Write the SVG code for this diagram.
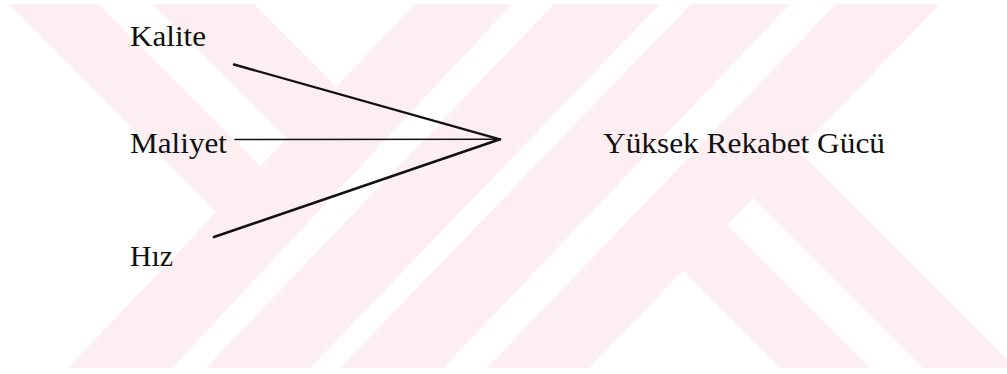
<svg xmlns="http://www.w3.org/2000/svg" width="1007" height="374" viewBox="0 0 1007 374">
  <style>
    .wm { fill: #fdeef1; stroke: none; }
    .lbl { font-family: "Liberation Serif", "Times New Roman", serif; font-size: 30px; fill: #111; }
    .edge { stroke: #111; fill: none; stroke-linecap: round; }
  </style>
  <rect x="0" y="0" width="1007" height="374" fill="#ffffff"/>
  <g id="watermark">
    <polygon class="wm" points="9,4 98,4 260.3,166.3 216.4,212.4"/>
    <polygon class="wm" points="152,4 254,4 336,86.4 286.7,138.7"/>
    <polygon class="wm" points="415,4 512,4 172,368 68,368"/>
    <polygon class="wm" points="554,4 660,4 310,368 206,368"/>
    <polygon class="wm" points="691,4 790,4 443,368 340,368"/>
    <polygon class="wm" points="836,4 940,4 589,368 487,368"/>
    <polygon class="wm" points="727,225 870,368 781,368 683.3,270.3"/>
    <polygon class="wm" points="798.6,150.6 1007,359 1007,368 923,368 753,198"/>
  </g>
  <g id="connectors">
    <line class="edge" x1="234" y1="64.5" x2="500" y2="139.3" stroke-width="2.4"/>
    <line class="edge" x1="235" y1="139.5" x2="500" y2="139.3" stroke-width="1.6"/>
    <line class="edge" x1="214" y1="237" x2="500" y2="139.3" stroke-width="2.5"/>
  </g>
  <g id="node-kalite">
    <text class="lbl" x="130" y="45.5" textLength="76" lengthAdjust="spacingAndGlyphs">Kalite</text>
  </g>
  <g id="node-maliyet">
    <text class="lbl" x="130" y="153.3" textLength="97" lengthAdjust="spacingAndGlyphs">Maliyet</text>
  </g>
  <g id="node-hiz">
    <text class="lbl" x="130" y="266" textLength="43" lengthAdjust="spacingAndGlyphs">Hız</text>
  </g>
  <g id="node-rekabet">
    <text class="lbl" x="603" y="153.3" textLength="282" lengthAdjust="spacingAndGlyphs">Yüksek Rekabet Gücü</text>
  </g>
</svg>
